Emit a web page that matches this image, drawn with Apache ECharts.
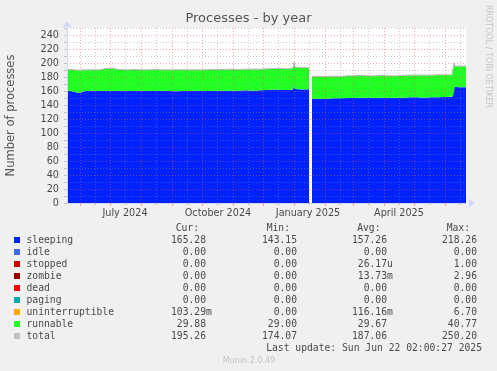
<!DOCTYPE html>
<html><head><meta charset="utf-8">
<script src="https://cdn.jsdelivr.net/npm/echarts@6/dist/echarts.min.js"></script>
<style>html,body{margin:0;padding:0;background:#f0f0f0;}#c{width:497px;height:371px;}</style>
</head><body><div id="c"></div>
<script>
const dates = ['2024-05-19','2024-05-23','2024-05-30','2024-06-02','2024-06-06','2024-06-13','2024-06-20','2024-06-27','2024-07-04','2024-07-11',
'2024-07-18','2024-07-25','2024-08-01','2024-08-08','2024-08-15','2024-08-22','2024-08-29','2024-09-05','2024-09-12','2024-09-19',
'2024-09-26','2024-10-03','2024-10-10','2024-10-17','2024-10-24','2024-10-31','2024-11-07','2024-11-14','2024-11-21','2024-11-28',
'2024-12-05','2024-12-12','2024-12-19','2024-12-26','2024-12-31','2025-01-01','2025-01-02','2025-01-09','2025-01-16','2025-01-17',
'2025-01-19','2025-01-26','2025-02-02','2025-02-09','2025-02-16','2025-02-23','2025-03-02','2025-03-09','2025-03-16','2025-03-23',
'2025-03-30','2025-04-06','2025-04-13','2025-04-20','2025-04-27','2025-05-04','2025-05-11','2025-05-18','2025-05-25','2025-06-01',
'2025-06-08','2025-06-09','2025-06-10','2025-06-11','2025-06-15','2025-06-22'];
const sleeping = [160,160,157.5,158,160,160.5,160,160.5,160,160.5,
160,160,160.5,160,160,160.5,160,159.5,160,160,
160.5,160,160,160.5,160.5,160.5,160.5,161,160.5,161,
161.5,162,161.5,161.5,162,168,163,162,162.5,null,
148.5,149,148.5,149.5,149.5,150,150,150.5,150.5,150,
150.5,150,150.5,150.5,151,151,150.5,151,151,151.5,
151.5,152,166,166,165.5,165.3];
const runnable = [30,30.5,32,31.5,30,29.5,30,31.5,32,30,
30,30.5,29.5,30,30.5,29.5,30,30.5,30,30,
29.5,30,30.5,30,30,30.5,30,30,30.5,30,
30,30,30.5,30,31,33,31,31,30.5,null,
32,31.5,32,31.5,31,31.5,31.5,31.5,31,31.5,
31.5,31.5,31,31.5,31.5,31.5,32,31.5,32,31.5,
31.5,31.5,34,29.5,30,29.9];
const total = [190.3,190.7,189.7,189.8,190.2,190.2,190.2,192.2,192.3,190.7,
190.2,190.7,190.3,190.2,190.8,190.2,190.2,190.2,190.3,190.2,
190.2,190.2,190.7,190.7,190.7,191.2,190.7,191.2,191.2,191.2,
191.7,192.2,192.2,191.7,193.2,201.5,194.3,193.3,193.3,null,
180.7,180.8,180.8,181.2,180.7,181.7,181.8,182.2,181.7,181.7,
182.2,181.7,181.7,182.2,182.7,182.7,182.7,182.7,183.2,183.2,
183.2,183.7,200.3,195.7,195.7,195.3];

const xStart = '2024-05-19', xEnd = '2025-06-22';
const monthStarts = ['2024-06-01','2024-07-01','2024-08-01','2024-09-01','2024-10-01','2024-11-01','2024-12-01',
'2025-01-01','2025-02-01','2025-03-01','2025-04-01','2025-05-01','2025-06-01'];
const minorGrid = ['2024-06-16','2024-07-16','2024-08-16','2024-09-16','2024-10-16','2024-11-16','2024-12-16',
'2025-01-16','2025-02-16','2025-03-16','2025-04-16','2025-05-16','2025-06-16'];
const labelDates = ['2024-07-16','2024-10-17','2025-01-15','2025-04-16'];
const monthNames = ['January','February','March','April','May','June','July','August','September','October','November','December'];

const legendNames = ['sleeping','idle','stopped','zombie','dead','paging','uninterruptible','runnable','total'];
const legendColors = ['#0022ff','#4169e1','#cc0000','#990000','#ff0000','#00aaaa','#ffa500','#22ff22','#c0c0c0'];
const curVals = ['165.28','0.00','0.00','0.00','0.00','0.00','103.29m','29.88','195.26'];
const minVals = ['143.15','0.00','0.00','0.00','0.00','0.00','0.00','29.00','174.07'];
const avgVals = ['157.26','0.00','26.17u','13.73m','0.00','0.00','116.16m','29.67','187.06'];
const maxVals = ['218.26','0.00','1.00','2.96','0.00','0.00','6.70','40.77','250.20'];
const colHeaders = ['Cur:','Min:','Avg:','Max:'];

const ts = d => new Date(d + 'T00:00:00Z').getTime();
const pairs = arr => dates.map((d, i) => [ts(d), arr[i]]);

const FONT = 'DejaVu Sans';
const MONO = 'DejaVu Sans Mono';
const TXT = '#4a4a4a';
const MGRID = 'rgba(235,80,80,0.5)';
const GRID = 'rgba(140,140,140,0.45)';
const AXIS = '#CFD6F8';

const chart = echarts.init(document.getElementById('c'), null, {renderer: 'canvas'});

const graphics = [];
graphics.push({type:'text', left: 'center', top: 12, style:{text:'Processes - by year', font:'13px "'+FONT+'"', fill:'#555'}});
graphics.push({type:'text', x: 492, y: 5, rotation: -Math.PI/2, style:{text:'RRDTOOL / TOBI OETIKER', font:'8px "'+FONT+'"', fill:'#c4c4c4'}});
const colX = [206, 297, 387, 477];
const headX = [199, 290, 380.5, 470];
colHeaders.forEach((h, j) => graphics.push({type:'text', x: headX[j], y: 228, style:{text:h, font:'9.7px "'+MONO+'"', fill:TXT, align:'right', verticalAlign:'middle'}}));
const cols = [curVals, minVals, avgVals, maxVals];
legendNames.forEach((n, i) => {
  const y = 240 + i * 12;
  graphics.push({type:'rect', shape:{x:14, y:y-3, width:6, height:6}, style:{fill:legendColors[i]}});
  graphics.push({type:'text', x: 26.5, y: y, style:{text:n, font:'9.7px "'+MONO+'"', fill:TXT, verticalAlign:'middle'}});
  cols.forEach((col, j) => {
    let v = col[i], unit = '';
    if (/[a-z]$/.test(v)) { unit = v.slice(-1); v = v.slice(0, -1); }
    graphics.push({type:'text', x: colX[j], y: y, style:{text:v, font:'9.7px "'+MONO+'"', fill:TXT, align:'right', verticalAlign:'middle'}});
    if (unit) graphics.push({type:'text', x: colX[j], y: y, style:{text:unit, font:'9.7px "'+MONO+'"', fill:TXT, align:'left', verticalAlign:'middle'}});
  });
});
graphics.push({type:'text', x: 482, y: 348, style:{text:'Last update: Sun Jun 22 02:00:27 2025', font:'9.7px "'+MONO+'"', fill:TXT, align:'right', verticalAlign:'middle'}});
graphics.push({type:'text', x: 249, y: 361, style:{text:'Munin 2.0.49', font:'8px "'+FONT+'"', fill:'#c4c4c4', align:'center', verticalAlign:'middle'}});

const option = {
  animation: false,
  useUTC: true,
  backgroundColor: '#f0f0f0',
  grid: {left: 67, right: 31, top: 28, bottom: 168, containLabel: false, outerBoundsMode: 'none',
         backgroundColor: '#ffffff', show: true, borderWidth: 0},
  xAxis: [{
    type: 'time', min: ts(xStart), max: ts(xEnd), position: 'bottom', z: 1,
    axisLine: {show: false}, axisTick: {show: false}, axisLabel: {show: false}, splitLine: {show: false}
  }, {
    type: 'value', min: ts(xStart), max: ts(xEnd), position: 'bottom', z: 3,
    axisLine: {show: false},
    axisTick: {show: true, length: 2, customValues: minorGrid.map(ts), lineStyle: {color: GRID}},
    axisLabel: {show: false},
    splitLine: {show: true, lineStyle: {color: GRID, type: [1, 2], width: 1}}
  }, {
    type: 'value', min: ts(xStart), max: ts(xEnd), position: 'bottom', z: 3,
    axisLine: {show: true, lineStyle: {color: AXIS, width: 1}, symbol: ['none','arrow'], symbolSize: [7, 7], symbolOffset: [0, 9]},
    axisTick: {show: true, length: 3, customValues: monthStarts.map(ts), lineStyle: {color: MGRID}},
    axisLabel: {customValues: labelDates.map(ts), margin: 5, fontSize: 9.7, fontFamily: FONT, color: TXT,
      formatter: v => { const d = new Date(v); return monthNames[d.getUTCMonth()] + ' ' + d.getUTCFullYear(); }},
    splitLine: {show: true, lineStyle: {color: MGRID, type: [1, 2], width: 1}}
  }],
  yAxis: {
    type: 'value', min: 0, max: 250, interval: 10, z: 3,
    name: 'Number of processes', nameLocation: 'middle', nameGap: 50,
    nameTextStyle: {fontSize: 11.5, fontFamily: FONT, color: '#555'},
    axisLine: {show: true, lineStyle: {color: AXIS, width: 1}, symbol: ['none','arrow'], symbolSize: [7, 7], symbolOffset: [0, 7]},
    axisTick: {show: true, length: 3, lineStyle: {color: GRID}},
    axisLabel: {margin: 8, fontSize: 9.7, fontFamily: FONT, color: TXT,
      formatter: v => (v % 20 === 0 && v < 250) ? String(v) : ''},
    splitLine: {show: true, lineStyle: {color: [MGRID, GRID], type: [1, 2], width: 1}}
  },
  series: [
    {name: 'sleeping', type: 'line', xAxisIndex: 0, stack: 'p', data: pairs(sleeping), symbol: 'none', connectNulls: false,
     lineStyle: {width: 0}, areaStyle: {color: '#0022ff', opacity: 1}, z: 1},
    {name: 'runnable', type: 'line', xAxisIndex: 0, stack: 'p', data: pairs(runnable), symbol: 'none', connectNulls: false,
     lineStyle: {width: 0}, areaStyle: {color: '#22ff22', opacity: 1}, z: 1},
    {name: 'total', type: 'line', xAxisIndex: 0, data: pairs(total), symbol: 'none', connectNulls: false,
     lineStyle: {width: 1, color: '#b8b8b8'}, z: 1}
  ],
  graphic: graphics
};
chart.setOption(option);
</script>
</body></html>
